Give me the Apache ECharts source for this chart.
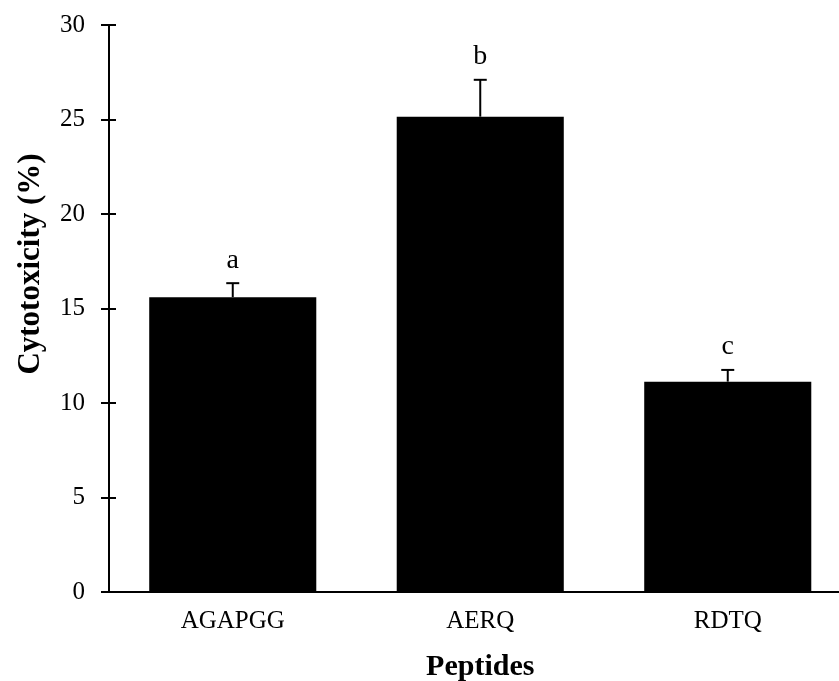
<!DOCTYPE html>
<html>
<head>
<meta charset="utf-8">
<script src="https://cdn.jsdelivr.net/npm/echarts@6/dist/echarts.min.js"></script>
<style>
  html, body { margin: 0; padding: 0; background: #fff; }
  #chart { width: 839px; height: 681px; }
</style>
</head>
<body>
<div id="chart"></div>
<script>
// Peptide cytotoxicity, mean with upper error bar and significance letters
const categories = ['AGAPGG', 'AERQ', 'RDTQ'];
const cytotoxicity = [15.6, 25.15, 11.13];
const errors = [0.74, 1.95, 0.62];
const letters = ['a', 'b', 'c'];
const yTicks = { min: 0, max: 30, interval: 5 };

const serif = '"Liberation Serif", "Times New Roman", serif';
const chart = echarts.init(document.getElementById('chart'));

const errorData = categories.map((c, i) => [i, cytotoxicity[i], errors[i], letters[i]]);

chart.setOption({
  animation: false,
  backgroundColor: '#fff',
  grid: {
    left: 109, top: 25, width: 742.5, height: 567,
    containLabel: false,
    outerBoundsMode: 'none'
  },
  xAxis: {
    type: 'category',
    data: categories,
    axisLine: { lineStyle: { color: '#000', width: 2 } },
    axisTick: { show: false },
    axisLabel: { color: '#000', fontFamily: serif, fontSize: 25, margin: 17 },
    name: 'Peptides',
    nameLocation: 'middle',
    nameGap: 60,
    nameTextStyle: { color: '#000', fontFamily: serif, fontSize: 30, fontWeight: 'bold' }
  },
  yAxis: [
    {
      type: 'value',
      min: yTicks.min, max: yTicks.max, interval: yTicks.interval,
      position: 'left',
      axisLine: { show: true, lineStyle: { color: '#000', width: 2 } },
      axisTick: { show: true, length: 8, lineStyle: { color: '#000', width: 2 } },
      axisLabel: { color: '#000', fontFamily: serif, fontSize: 25, margin: 24 },
      splitLine: { show: false }
    },
    {
      // inner half of the cross ticks
      type: 'value',
      min: yTicks.min, max: yTicks.max, interval: yTicks.interval,
      position: 'left', offset: 0,
      axisLine: { show: false },
      axisTick: { show: true, inside: true, length: 7, lineStyle: { color: '#000', width: 2 } },
      axisLabel: { show: false },
      splitLine: { show: false }
    }
  ],
  graphic: [{
    type: 'text',
    x: 31, y: 264,
    rotation: Math.PI / 2,
    style: {
      text: 'Cytotoxicity (%)',
      fill: '#000',
      font: 'bold 31px ' + serif,
      textAlign: 'center',
      textVerticalAlign: 'middle'
    }
  }],
  series: [
    {
      type: 'bar',
      data: cytotoxicity,
      barWidth: '67.5%',
      itemStyle: { color: '#000' },
      z: 2
    },
    {
      type: 'custom',
      data: errorData,
      z: 3,
      renderItem: function (params, api) {
        const x = api.value(0);
        const mean = api.value(1);
        const err = api.value(2);
        const base = api.coord([x, mean]);
        const top = api.coord([x, mean + err]);
        const cap = 6.5;
        return {
          type: 'group',
          children: [
            { type: 'line', shape: { x1: base[0], y1: base[1], x2: top[0], y2: top[1] },
              style: { stroke: '#000', lineWidth: 2 } },
            { type: 'line', shape: { x1: top[0] - cap, y1: top[1], x2: top[0] + cap, y2: top[1] },
              style: { stroke: '#000', lineWidth: 2 } },
            { type: 'text', x: top[0], y: top[1] - 9,
              style: { text: letters[params.dataIndex], fill: '#000', font: '28px ' + serif,
                       textAlign: 'center', textVerticalAlign: 'bottom' } }
          ]
        };
      }
    }
  ]
});
</script>
</body>
</html>
